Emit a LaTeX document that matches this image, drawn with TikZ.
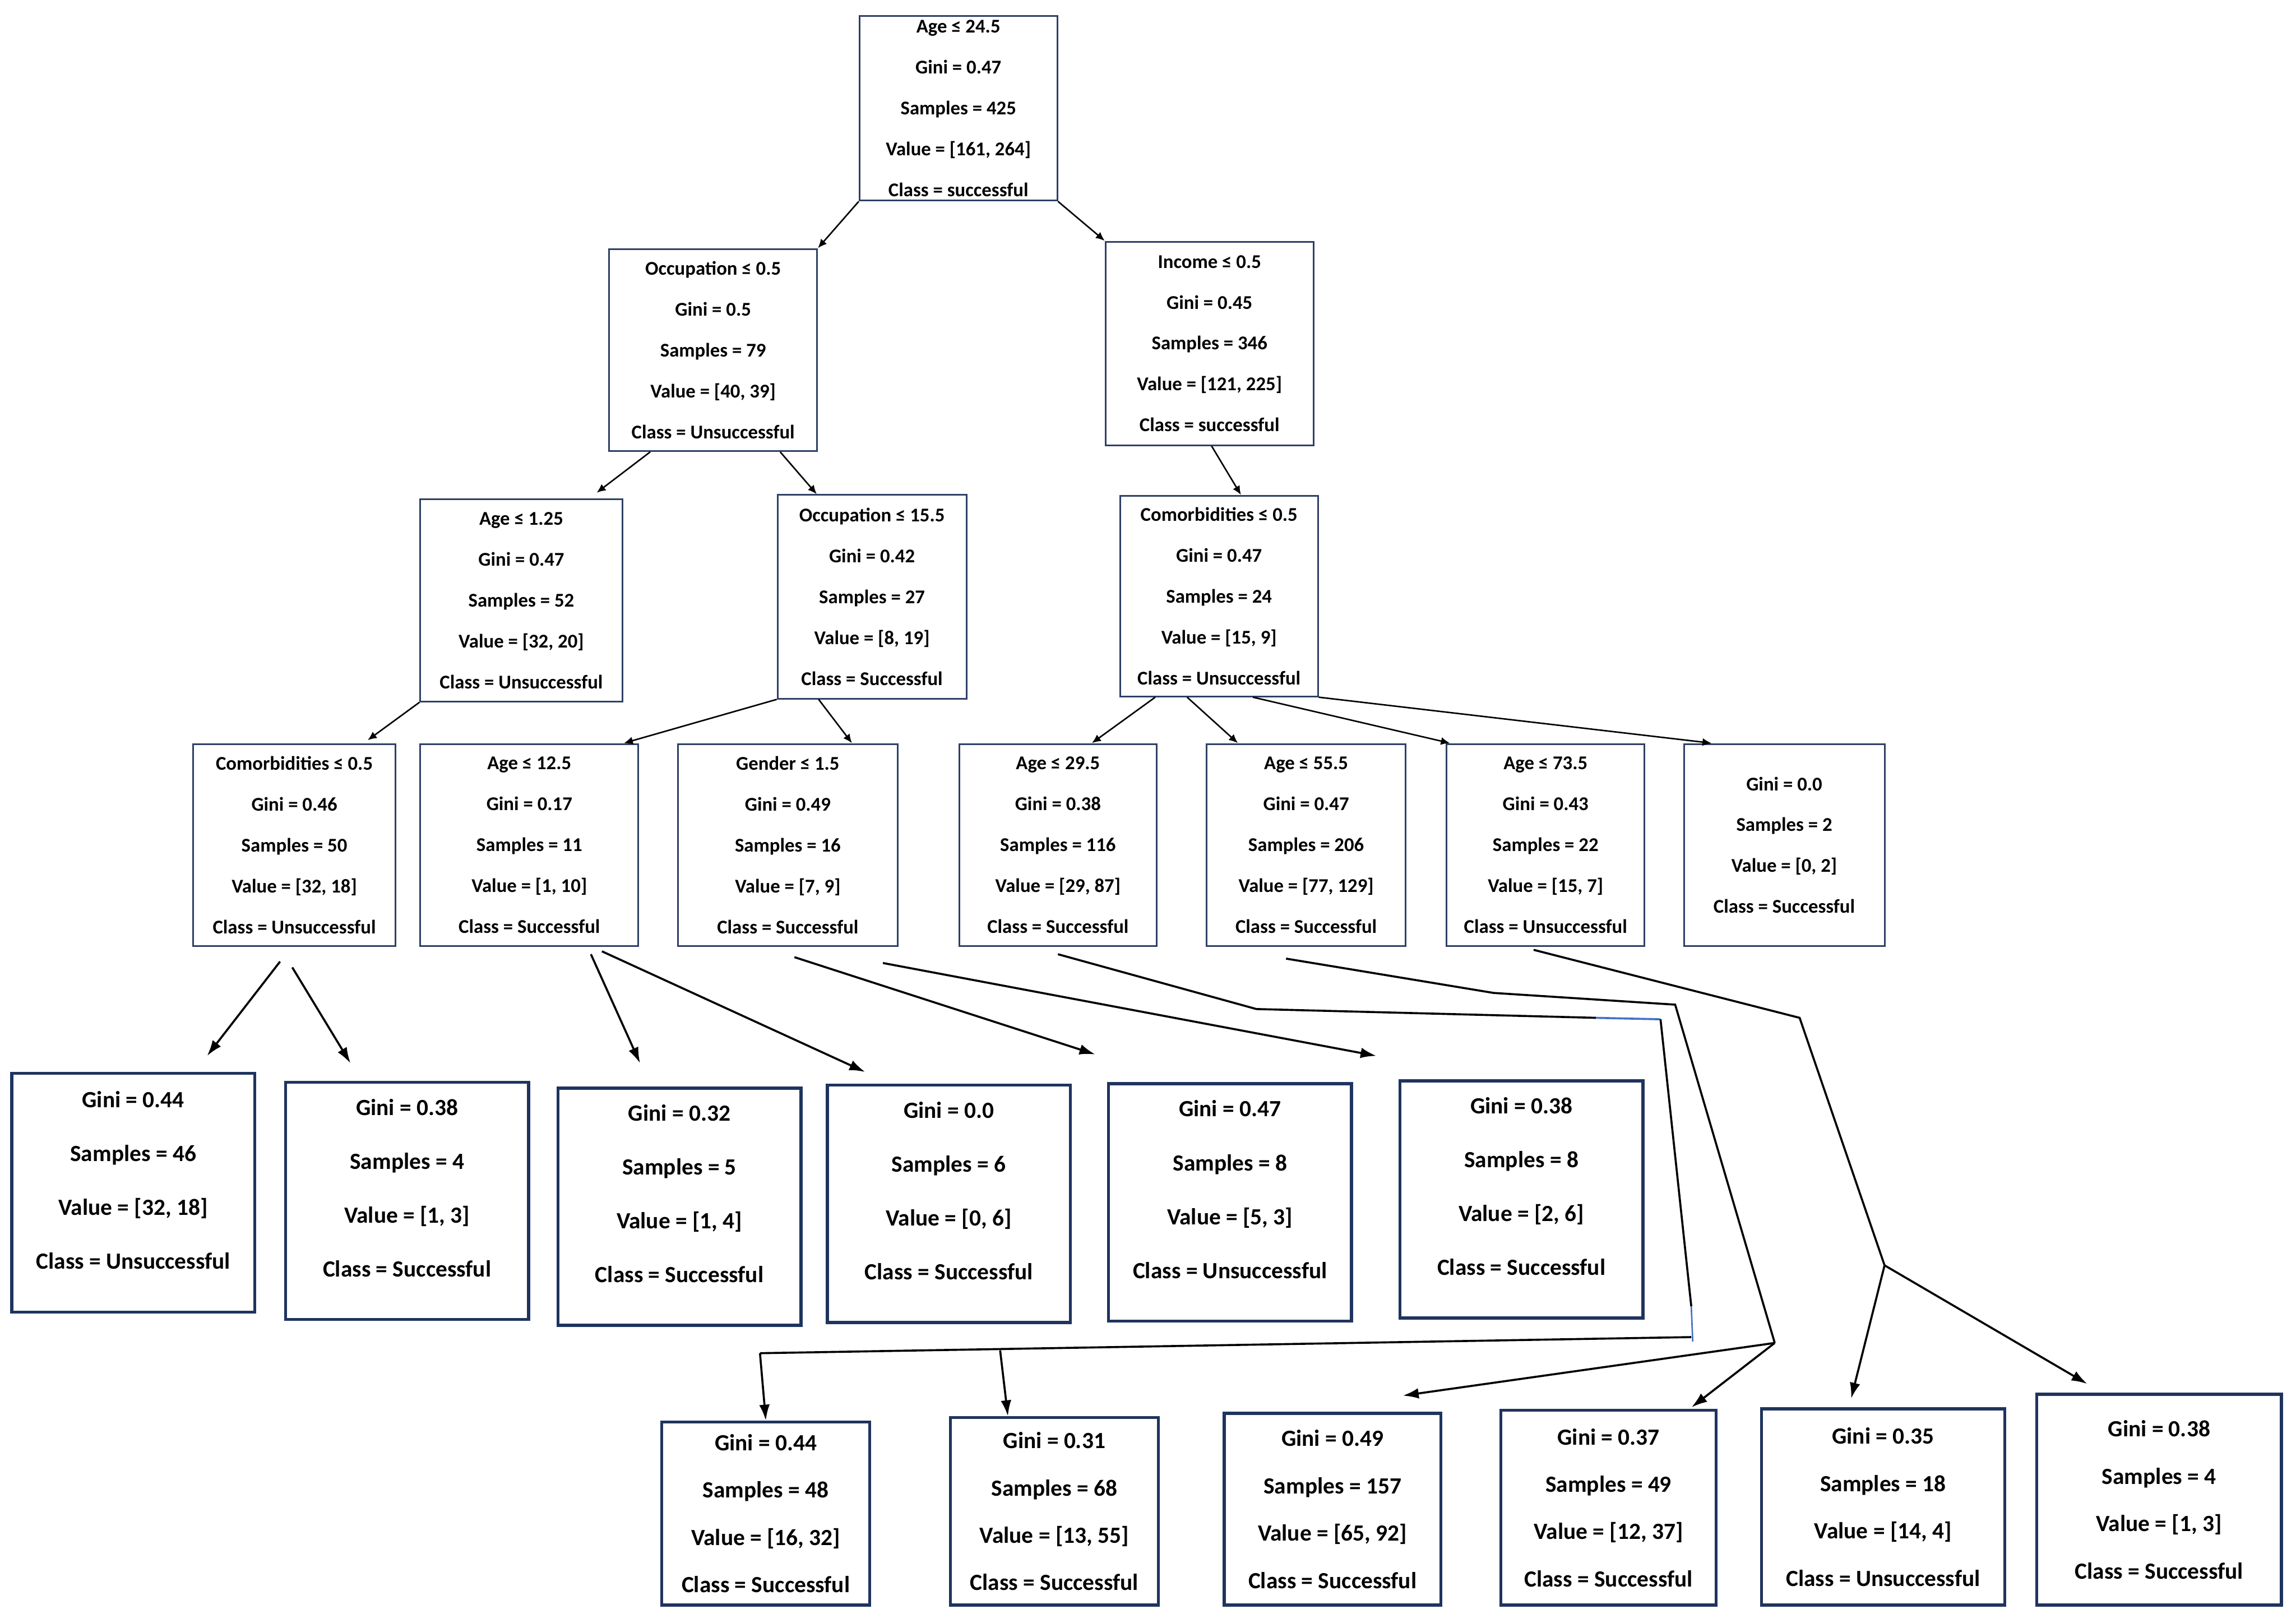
\documentclass[tikz,border=0pt]{standalone}
\usepackage{fontspec}
\setmainfont{Carlito}
\usetikzlibrary{arrows.meta,calc}
\definecolor{bordc}{RGB}{46,64,102}
\definecolor{leafc}{RGB}{31,52,94}
\definecolor{bluec}{RGB}{68,114,196}
\begin{document}
\begin{tikzpicture}[x=0.02772cm,y=-0.02772cm,
  boxsz/.style 2 args={minimum width=#1*0.02772cm, minimum height=#2*0.02772cm},
  upbox/.style={draw=bordc, line width=0.9pt, inner sep=0pt, align=center, fill=white,
    font=\bfseries\fontsize{10.5pt}{22pt}\selectfont},
  leafbox/.style={draw=leafc, line width=1.6pt, inner sep=0pt, align=center, fill=white,
    font=\bfseries\fontsize{12.5pt}{29pt}\selectfont, text depth=14pt},
  lowbox/.style={draw=leafc, line width=1.6pt, inner sep=0pt, align=center, fill=white,
    font=\bfseries\fontsize{12.5pt}{25.5pt}\selectfont},
  upar/.style={line width=0.8pt, -{Latex[length=0.17cm,width=0.15cm]}},
  lowar/.style={line width=1.1pt, -{Latex[length=0.3cm,width=0.2cm]}},
  seg/.style={line width=1.1pt},
]
\fill[white] (0,0) rectangle (1568,1108);
\useasboundingbox (0,0) rectangle (1568,1108);

% level 0
\node[upbox, boxsz={135}{126}] (root) at (654.5,74) {Age ≤ 24.5\\Gini = 0.47\\Samples = 425\\Value = [161, 264]\\Class = successful};
% level 1
\node[upbox, boxsz={142}{138}] (occ05) at (487,239) {Occupation ≤ 0.5\\Gini = 0.5\\Samples = 79\\Value = [40, 39]\\Class = Unsuccessful};
\node[upbox, boxsz={142}{139}] (inc05) at (826,234.5) {Income ≤ 0.5\\Gini = 0.45\\Samples = 346\\Value = [121, 225]\\Class = successful};
% level 2
\node[upbox, boxsz={138}{138}] (age125) at (356,410) {Age ≤ 1.25\\Gini = 0.47\\Samples = 52\\Value = [32, 20]\\Class = Unsuccessful};
\node[upbox, boxsz={129}{139}] (occ155) at (595.5,407.5) {Occupation ≤ 15.5\\Gini = 0.42\\Samples = 27\\Value = [8, 19]\\Class = Successful};
\node[upbox, boxsz={135}{137}] (com05r) at (832.5,407) {Comorbidities ≤ 0.5\\Gini = 0.47\\Samples = 24\\Value = [15, 9]\\Class = Unsuccessful};
% level 3
\node[upbox, boxsz={138}{138}] (com05l) at (201,577) {Comorbidities ≤ 0.5\\Gini = 0.46\\Samples = 50\\Value = [32, 18]\\Class = Unsuccessful};
\node[upbox, boxsz={149}{138}] (ageb) at (361.5,577) {Age ≤ 12.5\\Gini = 0.17\\Samples = 11\\Value = [1, 10]\\Class = Successful};
\node[upbox, boxsz={150}{138}] (gen15) at (538,577) {Gender ≤ 1.5\\Gini = 0.49\\Samples = 16\\Value = [7, 9]\\Class = Successful};
\node[upbox, boxsz={135}{138}] (age295) at (722.5,577) {Age ≤ 29.5\\Gini = 0.38\\Samples = 116\\Value = [29, 87]\\Class = Successful};
\node[upbox, boxsz={136}{138}] (age555) at (892,577) {Age ≤ 55.5\\Gini = 0.47\\Samples = 206\\Value = [77, 129]\\Class = Successful};
\node[upbox, boxsz={135}{138}] (age735) at (1055.5,577) {Age ≤ 73.5\\Gini = 0.43\\Samples = 22\\Value = [15, 7]\\Class = Unsuccessful};
\node[upbox, boxsz={137}{138}] (g0) at (1218.5,577) {Gini = 0.0\\Samples = 2\\Value = [0, 2]\\Class = Successful};
% level 4 leaves
\node[leafbox, boxsz={166}{163}] (L1) at (91,814.5) {Gini = 0.44\\Samples = 46\\Value = [32, 18]\\Class = Unsuccessful};
\node[leafbox, boxsz={166}{162}] (L2) at (278,820) {Gini = 0.38\\Samples = 4\\Value = [1, 3]\\Class = Successful};
\node[leafbox, boxsz={166}{162}] (L3) at (464,824) {Gini = 0.32\\Samples = 5\\Value = [1, 4]\\Class = Successful};
\node[leafbox, boxsz={166}{162}] (L4) at (648,822) {Gini = 0.0\\Samples = 6\\Value = [0, 6]\\Class = Successful};
\node[leafbox, boxsz={166}{162}] (L5) at (840,821) {Gini = 0.47\\Samples = 8\\Value = [5, 3]\\Class = Unsuccessful};
\node[leafbox, boxsz={166}{162}] (L6) at (1039,819) {Gini = 0.38\\Samples = 8\\Value = [2, 6]\\Class = Successful};
% level 5 leaves
\node[lowbox, boxsz={142}{125}] (M1) at (523,1033.5) {Gini = 0.44\\Samples = 48\\Value = [16, 32]\\Class = Successful};
\node[lowbox, boxsz={142}{128}] (M2) at (720,1032) {Gini = 0.31\\Samples = 68\\Value = [13, 55]\\Class = Successful};
\node[lowbox, boxsz={148}{131}] (M3) at (910,1030.5) {Gini = 0.49\\Samples = 157\\Value = [65, 92]\\Class = Successful};
\node[lowbox, boxsz={147}{133}] (M4) at (1098.5,1029.5) {Gini = 0.37\\Samples = 49\\Value = [12, 37]\\Class = Successful};
\node[lowbox, boxsz={166}{134}] (M5) at (1286,1029) {Gini = 0.35\\Samples = 18\\Value = [14, 4]\\Class = Unsuccessful};
\node[lowbox, boxsz={167}{144}] (M6) at (1474.5,1024) {Gini = 0.38\\Samples = 4\\Value = [1, 3]\\Class = Successful};

% upper connectors
\draw[upar] (root.south west) -- (occ05.north east);
\draw[upar] (root.south east) -- (inc05.north west);
\draw[upar] ($(occ05.south west)!0.2!(occ05.south east)$) -- ($(age125.north west)!0.87!(age125.north east)+(0,-4)$);
\draw[upar] ($(occ05.south west)!0.82!(occ05.south east)$) -- ($(occ155.north west)!0.21!(occ155.north east)$);
\draw[upar] ($(inc05.south west)!0.51!(inc05.south east)$) -- ($(com05r.north west)!0.61!(com05r.north east)$);
\draw[upar] (age125.south west) -- ($(com05l.north west)!0.86!(com05l.north east)+(0,-2)$);
\draw[upar] (occ155.south west) -- ($(ageb.north west)!0.93!(ageb.north east)$);
\draw[upar] ($(occ155.south west)!0.22!(occ155.south east)$) -- ($(gen15.north west)!0.79!(gen15.north east)$);
\draw[upar] ($(com05r.south west)!0.18!(com05r.south east)$) -- ($(age295.north west)!0.67!(age295.north east)$);
\draw[upar] ($(com05r.south west)!0.34!(com05r.south east)$) -- ($(age555.north west)!0.16!(age555.north east)$);
\draw[upar] ($(com05r.south west)!0.67!(com05r.south east)$) -- ($(age735.north west)!0.02!(age735.north east)$);
\draw[upar] (com05r.south east) -- ($(g0.north west)!0.14!(g0.north east)$);

% lower connectors
\draw[lowar] ($(com05l.south west)!0.43!(com05l.south east)+(0,10)$) -- ($(L1.north west)!0.8!(L1.north east)+(0,-11)$);
\draw[lowar] ($(com05l.south west)!0.49!(com05l.south east)+(0,14)$) -- ($(L2.north west)!0.27!(L2.north east)+(0,-12)$);
\draw[lowar] ($(ageb.south west)!0.78!(ageb.south east)+(0,5)$) -- ($(L3.north west)!0.34!(L3.north east)+(0,-16)$);
\draw[lowar] ($(ageb.south west)!0.83!(ageb.south east)+(0,3)$) -- ($(L4.north west)!0.16!(L4.north east)+(0,-8)$);
\draw[lowar] ($(gen15.south west)!0.53!(gen15.south east)+(0,7)$) -- ($(L5.north west)+(-8,-19)$);
\draw[lowar] ($(gen15.south west)!0.93!(gen15.south east)+(0,11)$) -- ($(L6.north west)+(-15,-16)$);

% path A: Age <= 29.5 to bottom-left leaves
\coordinate (pa1) at (858,689);
\coordinate (pa2) at (1090,695);
\coordinate (pa3) at (1134,696);
\coordinate (pa4) at (1155,892);
\coordinate (pa5) at (1156,916);
\coordinate (pa6) at (1155,913);
\coordinate (pa7) at (519,924);
\coordinate (pa8) at (683,922);
\draw[seg] ($(age295.south west)!0.5!(age295.south east)+(0,5)$) -- (pa1) -- (pa2);
\draw[seg, bluec] (pa2) -- (pa3);
\draw[seg] (pa3) -- (pa4);
\draw[line width=0.8pt, bluec] (pa4) -- (pa5);
\draw[seg] (pa6) -- (pa7);
\draw[lowar] (pa7) -- ($(M1.north west)!0.5!(M1.north east)$);
\draw[lowar] (pa8) -- ($(M2.north west)!0.28!(M2.north east)$);

% path B: Age <= 55.5
\coordinate (pb1) at (1020,678);
\coordinate (pb2) at (1144,686);
\coordinate (pb3) at (1212,917);
\draw[seg] ($(age555.south west)!0.4!(age555.south east)+(0,8)$) -- (pb1) -- (pb2) -- (pb3);
\draw[lowar] (pb3) -- ($(M3.north west)!0.82!(M3.north east)+(0,-11)$);
\draw[lowar] (pb3) -- ($(M4.north west)!0.88!(M4.north east)+(0,-1)$);

% path C: Age <= 73.5
\coordinate (pc1) at (1229,695);
\coordinate (pc2) at (1287,864);
\draw[seg] ($(age735.south west)!0.44!(age735.south east)+(0,2)$) -- (pc1) -- (pc2);
\draw[lowar] (pc2) -- ($(M5.north west)!0.37!(M5.north east)+(0,-6)$);
\draw[lowar] (pc2) -- ($(M6.north west)!0.21!(M6.north east)+(0,-6)$);
\end{tikzpicture}
\end{document}
